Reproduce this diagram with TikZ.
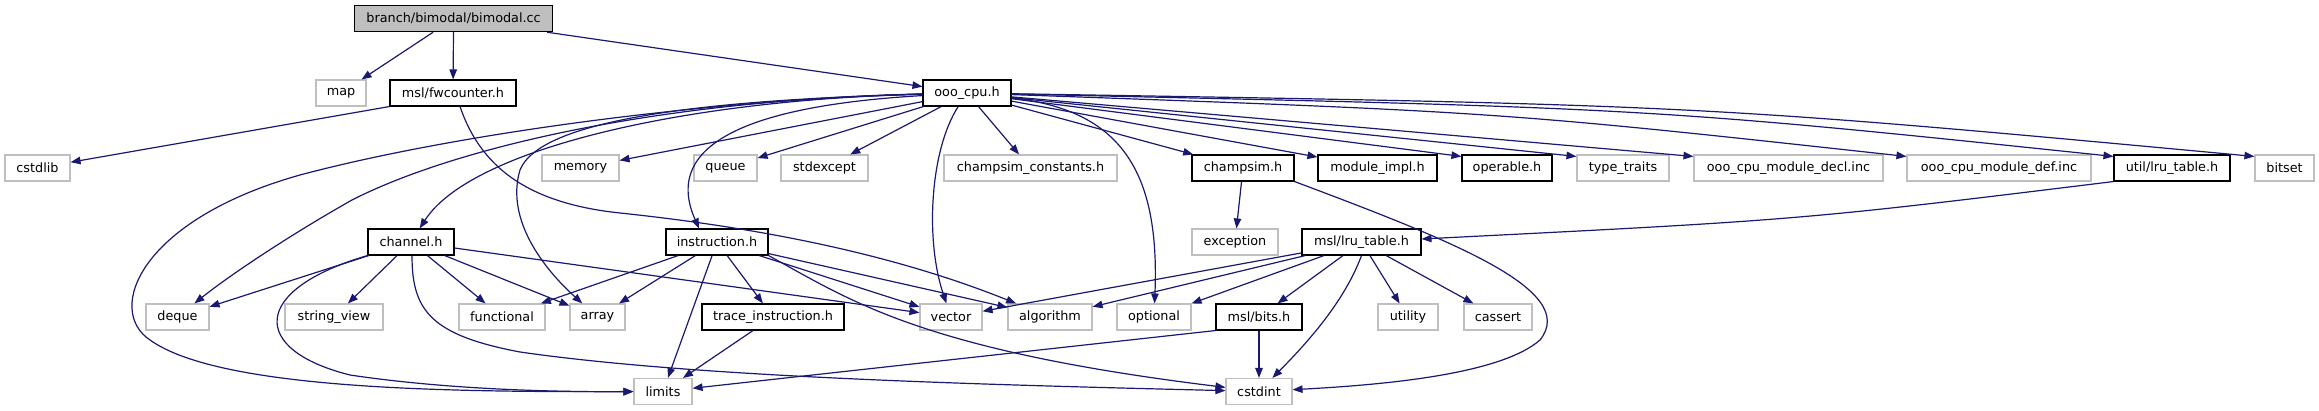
\documentclass[tikz,border=0pt]{standalone}
\usepackage{fontspec}
\setmainfont{DejaVu Sans}
\usetikzlibrary{arrows.meta}
\definecolor{edgeblue}{HTML}{191970}
\definecolor{greyseventyfive}{HTML}{BFBFBF}
\begin{document}
\begin{tikzpicture}[x=1pt,y=-1pt,
  box/.style={draw, line width=1.1pt, minimum height=26pt, inner sep=0pt, font=\fontsize{12.8}{15}\selectfont},
  ext/.style={box, draw=greyseventyfive},
  doc/.style={box, draw=black},
  e/.style={draw=edgeblue, line width=1.2pt, -{Triangle[length=10pt,width=7.5pt]}, fill=none}]
\useasboundingbox (0,0) rectangle (2319,411);
% row 1
\node[doc, fill=greyseventyfive, minimum width=198pt] (root) at (453.6,18.7) {branch/bimodal/bimodal.cc};
% row 2
\node[ext, minimum width=50pt] (map) at (341,93) {map};
\node[doc, minimum width=126pt] (fwc) at (453,93) {msl/fwcounter.h};
\node[doc, minimum width=88pt] (ooo) at (967,93) {ooo\_cpu.h};
% row 3
\node[ext, minimum width=65pt] (cstdlib) at (37.5,168) {cstdlib};
\node[ext, minimum width=77pt] (memory) at (580.5,168) {memory};
\node[ext, minimum width=63pt] (queue) at (725.5,168) {queue};
\node[ext, minimum width=87pt] (stdexcept) at (824.5,168) {stdexcept};
\node[ext, minimum width=173pt] (consts) at (1030.5,168) {champsim\_constants.h};
\node[doc, minimum width=102pt] (champsim) at (1243,168) {champsim.h};
\node[doc, minimum width=119pt] (modimpl) at (1377.5,168) {module\_impl.h};
\node[doc, minimum width=90pt] (operable) at (1507,168) {operable.h};
\node[ext, minimum width=92pt] (typetraits) at (1623,168) {type\_traits};
\node[ext, minimum width=189pt] (decl) at (1788.5,168) {ooo\_cpu\_module\_decl.inc};
\node[ext, minimum width=184pt] (def) at (1999,168) {ooo\_cpu\_module\_def.inc};
\node[doc, minimum width=116pt] (ulru) at (2172,168) {util/lru\_table.h};
\node[ext, minimum width=59pt] (bitset) at (2284.5,168) {bitset};
% row 4
\node[doc, minimum width=86pt] (channel) at (411,242) {channel.h};
\node[doc, minimum width=102pt] (instr) at (717,242) {instruction.h};
\node[ext, minimum width=86pt] (exception) at (1235,242) {exception};
\node[doc, minimum width=119pt] (mlru) at (1361.5,242) {msl/lru\_table.h};
% row 5
\node[ext, minimum width=63pt] (deque) at (177.5,317) {deque};
\node[ext, minimum width=98pt] (sview) at (334,317) {string\_view};
\node[ext, minimum width=86pt] (functional) at (502,317) {functional};
\node[ext, minimum width=55pt] (array) at (597.5,317) {array};
\node[doc, minimum width=142pt] (trace) at (773,317) {trace\_instruction.h};
\node[ext, minimum width=62pt] (vector) at (951,317) {vector};
\node[ext, minimum width=84pt] (alg) at (1050,317) {algorithm};
\node[ext, minimum width=74pt] (optional) at (1154,317) {optional};
\node[doc, minimum width=86pt] (bits) at (1259,317) {msl/bits.h};
\node[ext, minimum width=60pt] (utility) at (1408,317) {utility};
\node[ext, minimum width=68pt] (cassert) at (1498,317) {cassert};
% row 6
\node[ext, minimum width=58pt] (limits) at (663,391.5) {limits};
\node[ext, minimum width=66pt] (cstdint) at (1259,391.5) {cstdint};

% root
\draw[e] (root) -- (map);
\draw[e] (root) -- (fwc);
\draw[e] (root) -- (ooo);
% fwcounter
\draw[e] (fwc.south west) -- (cstdlib);
\draw[e] ([xshift=7pt]fwc.south) .. controls (480,165) and (525,203) .. (620,213) .. controls (800,232) and (920,265) .. (alg);
% ooo_cpu
\draw[e] (ooo) .. controls (700,100) and (450,135) .. (300,175) .. controls (140,220) and (105,310) .. (150,340) .. controls (220,390) and (450,392) .. (limits);
\draw[e] (ooo) .. controls (650,100) and (450,150) .. (352,200) .. controls (290,235) and (230,275) .. (deque);
\draw[e] (ooo) .. controls (680,100) and (470,150) .. (channel);
\draw[e] (ooo) .. controls (700,100) and (540,120) .. (520,170) .. controls (505,220) and (545,270) .. (array);
\draw[e] (ooo) -- (memory);
\draw[e] (ooo) -- (queue);
\draw[e] (ooo) -- (stdexcept);
\draw[e] (ooo) .. controls (760,105) and (660,140) .. ([xshift=-18pt]instr.north);
\draw[e] (ooo) .. controls (930,150) and (925,240) .. (vector);
\draw[e] (ooo) -- (consts);
\draw[e] (ooo) .. controls (1120,110) and (1160,170) .. (optional);
\draw[e] (ooo) -- (champsim);
\draw[e] (ooo) -- (modimpl);
\draw[e] (ooo) -- ([yshift=-2pt]operable.north west);
\draw[e] (ooo) -- ([yshift=-2pt]typetraits.north west);
\draw[e] (ooo) -- ([yshift=-2pt]decl.north west);
\draw[e] (ooo) .. controls (1500,112) .. ([yshift=-2pt]def.north west);
\draw[e] (ooo) .. controls (1650,108) .. ([yshift=-2pt]ulru.north west);
\draw[e] (ooo) .. controls (1700,105) .. ([yshift=-2pt]bitset.north west);
% channel
\draw[e] (channel) -- (deque);
\draw[e] (channel.south west) .. controls (250,290) and (250,350) .. (350,375) .. controls (450,390) and (560,392) .. (limits);
\draw[e] (channel) -- (sview);
\draw[e] ([xshift=1pt]channel.south) .. controls (412,310) and (430,335) .. (520,352) .. controls (700,378) and (1000,385) .. (cstdint);
\draw[e] (channel) -- (functional);
\draw[e] (channel) -- (array);
\draw[e] (channel) -- (vector);
% instruction
\draw[e] (instr) -- (functional);
\draw[e] (instr) -- (array);
\draw[e] (instr) -- (limits);
\draw[e] (instr) -- (trace);
\draw[e] (instr) -- (vector);
\draw[e] (instr) -- (alg);
\draw[e] (instr.south east) .. controls (850,300) and (920,350) .. (cstdint);
% trace
\draw[e] (trace) -- (limits);
% champsim
\draw[e] (champsim) -- (exception);
\draw[e] (champsim.south east) .. controls (1450,240) and (1580,290) .. (1540,340) .. controls (1500,375) and (1380,385) .. (cstdint);
% util lru
\draw[e] (ulru.south west) .. controls (1800,220) .. (mlru);
% msl lru
\draw[e] (mlru) -- (vector);
\draw[e] (mlru) -- (alg);
\draw[e] (mlru) -- (optional);
\draw[e] (mlru) -- (bits);
\draw[e] (mlru.south) .. controls (1345,300) and (1310,340) .. (cstdint);
\draw[e] (mlru) -- (utility);
\draw[e] (mlru) -- (cassert);
% bits
\draw[e] (bits.south west) -- (limits);
\draw[e] (bits) -- (cstdint);
\end{tikzpicture}
\end{document}
